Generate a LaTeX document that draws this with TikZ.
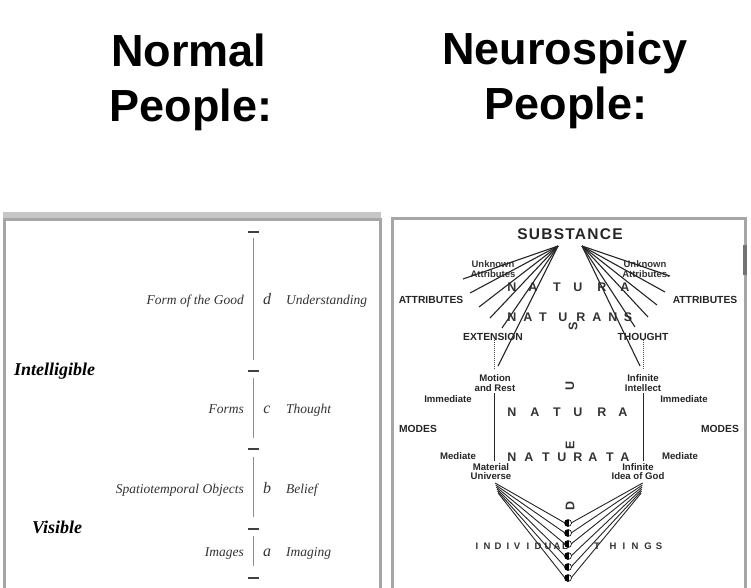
\documentclass[tikz,border=0pt]{standalone}
\usepackage{fontspec}
\setmainfont{Liberation Serif}
\setsansfont{Liberation Sans}
\usepackage{tikz}
\usetikzlibrary{positioning}
\newcommand*{\axisX}{253}
\newcommand*{\dotX}{568}

\tikzset{
    title/.style={font=\sffamily\bfseries\fontsize{45}{54}\selectfont, anchor=base, inner sep=0pt},
    frame/.style={draw=gray!70, line width=3pt},
    plato/.style={font=\itshape\fontsize{13.5}{16}\selectfont, text=black!80, inner sep=0pt},
    seg/.style={font=\itshape\fontsize{16}{18}\selectfont, text=black!80, inner sep=0pt, anchor=base},
    realm/.style={font=\bfseries\itshape\fontsize{18}{20}\selectfont, inner sep=0pt, anchor=base west},
    tick/.style={black!75, line width=1.2pt},
    axis/.style={black!45, line width=0.8pt},
    caps/.style={font=\sffamily\bfseries\fontsize{10.3}{12}\selectfont, text=black!85, inner sep=0pt, anchor=base},
    lbl/.style={font=\sffamily\bfseries\fontsize{9.6}{11}\selectfont, text=black!85, inner sep=0pt, anchor=base},
    big/.style={font=\sffamily\bfseries\fontsize{12.5}{14}\selectfont, text=black!80, inner sep=0pt, anchor=base},
    small/.style={font=\sffamily\bfseries\fontsize{9.5}{11}\selectfont, text=black!80, inner sep=0pt, anchor=base},
    fan/.style={black!85, line width=1.1pt},
    thing/.style={circle, draw=black, line width=0.6pt, fill=white, inner sep=0pt, minimum size=7pt,
        path picture={\fill[black] (path picture bounding box.north west) rectangle ([xshift=1pt]path picture bounding box.south);}},
}

\begin{document}
\begin{tikzpicture}[x=1pt,y=-1pt]
    \useasboundingbox (0,0) rectangle (751,587);
    \fill[white] (0,0) rectangle (751,587);

    % headings
    \node[title] (normal) at (189,66) {Normal};
    \node[title] (normal-ppl) at (191,121) {People:};
    \node[title] (spicy) at (565,64) {Neurospicy};
    \node[title] (spicy-ppl) at (566,119) {People:};

    % the two panels
    \fill[gray!45] (3,212) rectangle (381,221);
    \draw[frame] (4,219) rectangle (380,592);
    \draw[frame] (392,218) rectangle (745,592);
    \fill[black!55] (743,245) rectangle (747,275);

    %% left panel: the divided line
    \foreach \y [count=\i] in {232,371,449,529,578} {
        \coordinate (t\i) at (\axisX,\y);
        \draw[tick] ([xshift=-5.5pt]t\i) -- ([xshift=5.5pt]t\i);
    }
    \foreach \a/\b in {238/360,378/438,457/517,536/566}
        \draw[axis] (\axisX,\a) -- (\axisX,\b);

    \foreach \obj/\sym/\state/\y [count=\i] in {Form of the Good/d/Understanding/304,
        Forms/c/Thought/413, Spatiotemporal Objects/b/Belief/493, Images/a/Imaging/556} {
        \node[plato, anchor=base east] (obj\i) at (244,\y) {\obj};
        \node[seg] (sym\i) at (267,\y) {\sym};
        \node[plato, anchor=base west] (state\i) at (286,\y) {\state};
    }
    \node[realm] (intelligible) at (14,375) {Intelligible};
    \node[realm] (visible) at (32,533) {Visible};

    %% right panel
    \node[font=\sffamily\bfseries\fontsize{15.5}{18}\selectfont\addfontfeature{LetterSpace=8}, text=black!85, anchor=base, inner sep=0pt]
        (substance) at (570,239) {SUBSTANCE};
    \coordinate (apexL) at (558,246);
    \coordinate (apexR) at (582,246);

    \node[small] (unk-l) at (493,267) {Unknown};
    \node[small] (att-l) at (493,277) {Attributes};
    \node[small] (unk-r) at (645,267) {Unknown};
    \node[small] (att-r) at (646,277) {Attributes.};
    \node[caps] (attr-l) at (431,303) {ATTRIBUTES};
    \node[caps] (attr-r) at (705,303) {ATTRIBUTES};
    \node[caps] (extension) at (493,340) {EXTENSION};
    \node[caps] (thought) at (643,340) {THOUGHT};

    % natura naturans
    \foreach \c/\x [count=\i] in {N/512,A/533,T/557,U/578,R/602,A/625}
        \node[big] (nat1-\i) at (\x,291) {\c};
    \foreach \c/\x [count=\i] in {N/512,A/528,T/543,U/563,R/581,A/597,N/613,S/628}
        \node[big] (nat2-\i) at (\x,321) {\c};
    % natura naturata
    \foreach \c/\x [count=\i] in {N/512,A/535,T/557,U/578,R/602,A/623}
        \node[big] (nat3-\i) at (\x,416) {\c};
    \foreach \c/\x [count=\i] in {N/512,A/529,T/546,U/562,R/578,A/593,T/610,A/625}
        \node[big] (nat4-\i) at (\x,461) {\c};
    % deus, read upwards
    \node[big, rotate=90, anchor=center] (deus-s) at (573,326) {S};
    \node[big, rotate=90, anchor=center] (deus-u) at (570,386) {U};
    \node[big, rotate=90, anchor=center] (deus-e) at (570,445) {E};
    \node[big, rotate=90, anchor=center] (deus-d) at (570,506) {D};

    % fan from substance
    \foreach \x/\y [count=\i] in {463/279,470/293,479/307,490/318,502/328,498/366} {
        \coordinate (fl\i) at (\x,\y);
        \draw[fan] (apexL) -- (fl\i);
    }
    \foreach \x/\y [count=\i] in {670/276,665/292,657/305,648/317,635/327,640/366} {
        \coordinate (fr\i) at (\x,\y);
        \draw[fan] (apexR) -- (fr\i);
    }

    % modes
    \node[lbl] (motion) at (495,381) {Motion};
    \node[lbl] (rest) at (495,391) {and Rest};
    \node[lbl] (infinite) at (643,381) {Infinite};
    \node[lbl] (intellect) at (643,391) {Intellect};
    \node[lbl] (immed-l) at (448,402) {Immediate};
    \node[lbl] (immed-r) at (684,402) {Immediate};
    \node[caps] (modes-l) at (418,432) {MODES};
    \node[caps] (modes-r) at (720,432) {MODES};
    \node[lbl] (med-l) at (458,459) {Mediate};
    \node[lbl] (med-r) at (680,459) {Mediate};
    \node[lbl] (material) at (491,470) {Material};
    \node[lbl] (universe) at (491,479) {Universe};
    \node[lbl] (inf-idea) at (638,470) {Infinite};
    \node[lbl] (idea) at (638,479) {Idea of God};

    \draw[black!70, densely dotted, line width=1pt] (extension.south -| 494,0) -- (494,370);
    \draw[black!70, densely dotted, line width=1pt] (thought.south -| 643,0) -- (643,370);
    \draw[black!85, line width=1pt] (494,393) -- (494,461);
    \draw[black!85, line width=1pt] (643,393) -- (643,461);

    % individual things
    \foreach \c/\x [count=\i] in {I/477,N/487,D/498,I/508,V/517,I/528,D/538,U/548,A/557,L/565}
        \node[small] (ind-\i) at (\x,549) {\c};
    \foreach \c/\x [count=\i] in {T/597,H/613,I/624,N/635,G/648,S/659}
        \node[small] (thg-\i) at (\x,549) {\c};

    \foreach \y [count=\i] in {523,533,544,556,567,578} {
        \coordinate (bl\i) at (494.5+0.6*\i,481+2*\i);
        \coordinate (br\i) at (643-0.3*\i,481+2*\i);
        \draw[fan, line width=0.9pt] (bl\i) -- (\dotX-3,\y);
        \draw[fan, line width=0.9pt] (br\i) -- (\dotX+3,\y);
        \node[thing] (dot\i) at (\dotX,\y) {};
    }
\end{tikzpicture}
\end{document}
